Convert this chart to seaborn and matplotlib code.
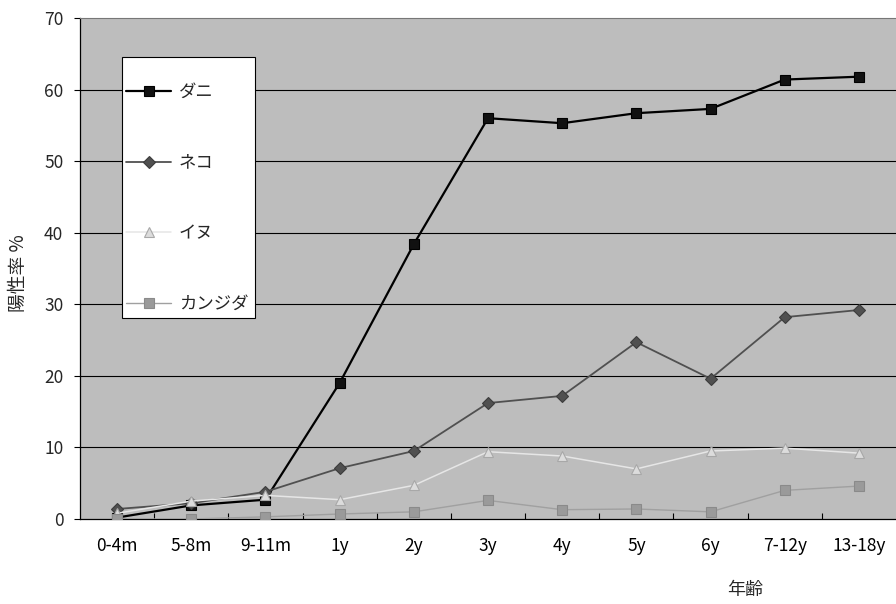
import matplotlib
matplotlib.use("Agg")
import matplotlib.pyplot as plt
import seaborn as sns
import pandas as pd
from matplotlib.patches import Rectangle

# Age groups and positivity rates (%) per allergen
age_groups = ["0-4m", "5-8m", "9-11m", "1y", "2y", "3y", "4y", "5y", "6y", "7-12y", "13-18y"]
mite = [0.2, 1.9, 2.7, 19.0, 38.4, 56.0, 55.3, 56.7, 57.3, 61.4, 61.8]
cat = [1.4, 2.2, 3.8, 7.1, 9.5, 16.2, 17.2, 24.7, 19.6, 28.2, 29.2]
dog = [0.8, 2.5, 3.3, 2.7, 4.7, 9.4, 8.8, 7.0, 9.5, 9.9, 9.2]
candida = [0.0, 0.0, 0.3, 0.7, 1.0, 2.6, 1.3, 1.4, 1.0, 4.0, 4.6]
series_names = ["ダニ", "ネコ", "イヌ", "カンジダ"]
y_ticks = [0, 10, 20, 30, 40, 50, 60, 70]

sns.set_theme(style="white")
plt.rcParams["font.family"] = ["Noto Sans CJK JP", "DejaVu Sans"]

rows = []
for name, vals in zip(series_names, [mite, cat, dog, candida]):
    for i, v in enumerate(vals):
        rows.append({"age": i, "rate": v, "allergen": name})
df = pd.DataFrame(rows)

fig = plt.figure(figsize=(8.96, 6.04), dpi=100)
ax = fig.add_axes([80 / 896, 85 / 604, 816 / 896, 501 / 604])
ax.set_facecolor("#bdbdbd")

styles = {
    "ダニ": dict(color="#000000", marker="s", markersize=7.5, linewidth=1.6,
                markeredgecolor="#000000", markerfacecolor="#111111"),
    "ネコ": dict(color="#505050", marker="D", markersize=6, linewidth=1.3,
                markeredgecolor="#3c3c3c", markerfacecolor="#505050"),
    "イヌ": dict(color="#e6e6e6", marker="^", markersize=7.5, linewidth=1.1,
                markeredgecolor="#a8a8a8", markerfacecolor="#dcdcdc"),
    "カンジダ": dict(color="#a0a0a0", marker="s", markersize=7, linewidth=1.0,
                 markeredgecolor="#8a8a8a", markerfacecolor="#9a9a9a"),
}

handles = []
for z, name in enumerate(series_names):
    sub = df[df["allergen"] == name]
    st = styles[name]
    sns.lineplot(data=sub, x="age", y="rate", ax=ax, estimator=None, sort=False,
                 color=st["color"], linewidth=st["linewidth"], marker=st["marker"],
                 markersize=st["markersize"], markeredgecolor=st["markeredgecolor"],
                 markerfacecolor=st["markerfacecolor"], markeredgewidth=0.8,
                 zorder=3 + z, legend=False)
    handles.append(ax.lines[-1])

ax.set_xlim(-0.5, len(age_groups) - 0.5)
ax.set_ylim(0, 70)
ax.set_yticks(y_ticks)
ax.set_yticklabels([str(t) for t in y_ticks], fontsize=12.5)
ax.set_xticks(range(len(age_groups)))
ax.set_xticklabels(age_groups, fontsize=12.5)
ax.set_xticks([i + 0.5 for i in range(len(age_groups) - 1)], minor=True)
ax.tick_params(axis="x", which="major", length=0, pad=13, colors="black")
ax.tick_params(axis="x", which="minor", length=4, direction="in", color="black", width=0.8, bottom=True)
ax.tick_params(axis="y", which="major", length=4, direction="out", color="black", width=0.8, pad=8, left=True)

for y in y_ticks[1:-1]:
    ax.axhline(y, color="black", linewidth=0.8, zorder=1)

for side in ["left", "bottom"]:
    ax.spines[side].set_color("black")
    ax.spines[side].set_linewidth(0.9)
ax.spines["top"].set_color("#777777")
ax.spines["top"].set_linewidth(0.8)
ax.spines["right"].set_visible(False)

ax.set_xlabel("")
ax.set_ylabel("陽性率 %", fontsize=13.5)
ax.yaxis.set_label_coords(-0.063, 0.49)
ax.text(0.815, -0.142, "年齢", transform=ax.transAxes, fontsize=13,
        ha="center", va="center")

# Legend panel
box = Rectangle(((122 - 80) / 816, (519 - 318) / 501), (255 - 122) / 816, (318 - 57) / 501,
                transform=ax.transAxes, facecolor="white", edgecolor="black",
                linewidth=0.8, zorder=10)
ax.add_patch(box)
leg = ax.legend(handles, series_names, loc="upper left",
                bbox_to_anchor=((126 - 80) / 816, (519 - 83) / 501),
                frameon=False, fontsize=12.5, labelspacing=3.03,
                handlelength=2.6, handletextpad=0.45, borderaxespad=0, borderpad=0)
leg.set_zorder(11)

fig.savefig("out.png", dpi=100)
